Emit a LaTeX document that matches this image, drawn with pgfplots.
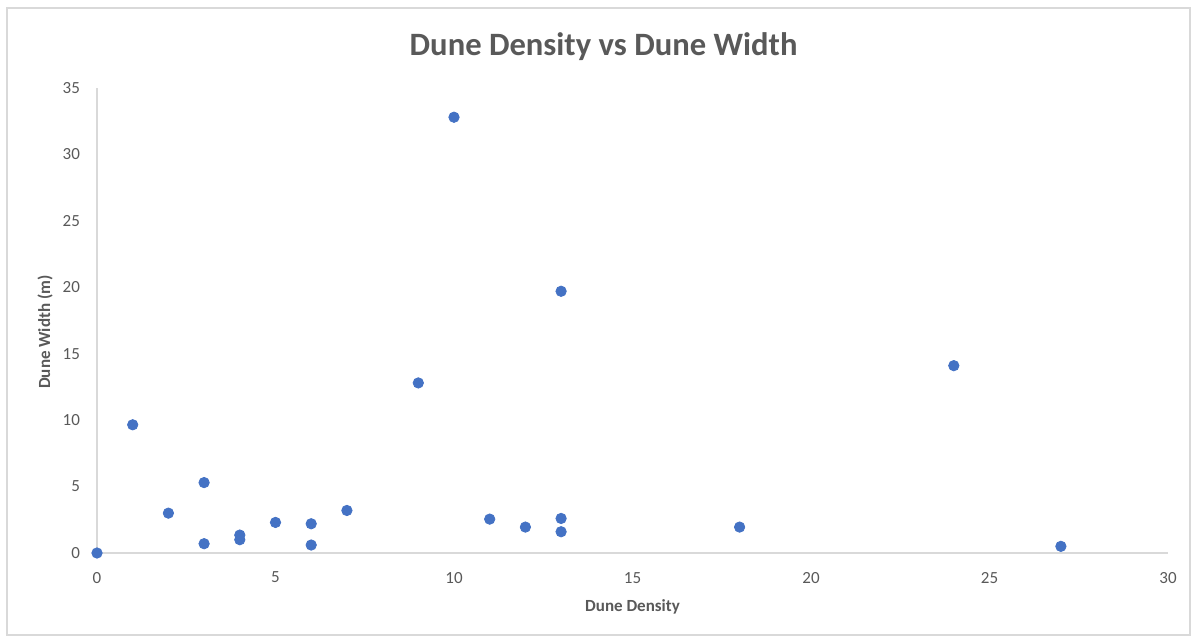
\documentclass[border=0pt]{standalone}
\usepackage{pgfplots}
\pgfplotsset{compat=1.18}
\usepackage{fontspec}
\setmainfont{Carlito}
\definecolor{ptblue}{HTML}{4472C4}
\definecolor{txtgray}{HTML}{595959}
\definecolor{axgray}{HTML}{D9D9D9}
\begin{document}
\begin{tikzpicture}
\draw[axgray, line width=0.8pt] (-45pt,-41pt) rectangle (546.5pt,272.5pt);
\begin{axis}[
  at={(0,0)}, anchor=south west,
  scale only axis, width=535.5pt, height=232.5pt,
  xmin=0, xmax=30, ymin=0, ymax=35,
  xtick={0,5,...,30}, ytick={0,5,...,35},
  axis x line*=bottom, axis y line*=left,
  axis line style={axgray, line width=0.8pt, -},
  major tick length=0pt,
  clip=false,
  /pgf/number format/assume math mode=true,
  tick label style={font=\fontsize{8.5}{10}\selectfont, text=txtgray},
  xticklabel style={yshift=-6pt},
  yticklabel style={xshift=-5pt},
  title={Dune Density vs Dune Width},
  title style={font=\fontsize{16.3}{19}\bfseries, text=txtgray, at={(0.473,1)}, anchor=base, yshift=10pt},
  xlabel={Dune Density},
  xlabel style={font=\fontsize{8.5}{10}\selectfont\bfseries, text=txtgray, at={(0.5,0)}, anchor=base, yshift=-29.5pt},
  ylabel={Dune Width (m)},
  ylabel style={font=\fontsize{8.5}{10}\selectfont\bfseries, text=txtgray, at={(0,0.475)}, anchor=center, yshift=26pt},
]
\addplot[only marks, mark=*, mark size=2.6pt, ptblue, mark options={draw=ptblue, fill=ptblue}] coordinates {
(0,0) (1,9.65) (2,3.0) (3,5.3) (3,0.7) (4,1.35) (4,1.0) (5,2.3) (6,2.2) (6,0.6)
(7,3.2) (9,12.8) (10,32.8) (11,2.55) (12,1.95) (13,19.7) (13,2.6) (13,1.6)
(18,1.95) (24,14.1) (27,0.5)
};
\end{axis}
\pgfresetboundingbox
\useasboundingbox (-48.5pt,-44.5pt) rectangle (548.5pt,276.5pt);
\end{tikzpicture}
\end{document}
